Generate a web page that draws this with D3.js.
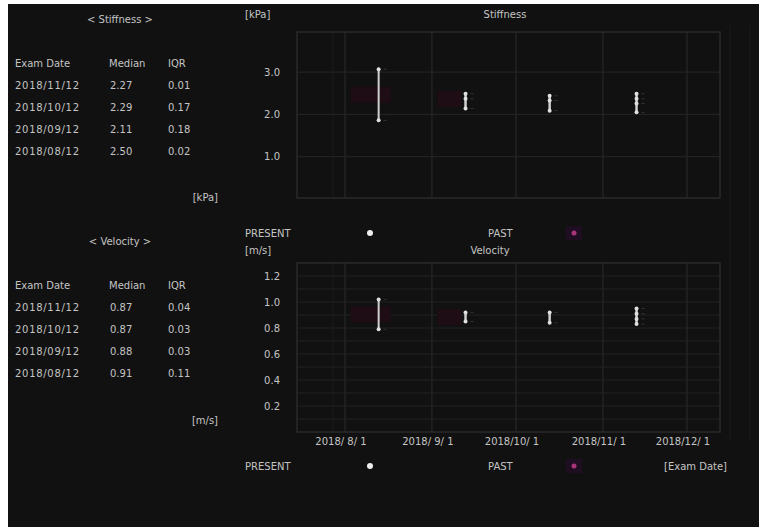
<!DOCTYPE html>
<html><head><meta charset="utf-8">
<script src="https://cdn.jsdelivr.net/npm/d3@7"></script>
<style>body{margin:0;background:#fff}svg{display:block}text{font-family:"DejaVu Sans",sans-serif;fill:#c4c4c4}</style>
</head><body>
<svg id="c" width="759" height="527"></svg>
<script>
// ---- data ----
const tableDates = ["2018/11/12","2018/10/12","2018/09/12","2018/08/12"];
const stiffMedian = ["2.27","2.29","2.11","2.50"];
const stiffIQR = ["0.01","0.17","0.18","0.02"];
const velMedian = ["0.87","0.87","0.88","0.91"];
const velIQR = ["0.04","0.03","0.03","0.11"];
const examDates = ["2018-08-13","2018-09-13","2018-10-13","2018-11-13"];
const stiffMeasures = [[3.07,1.86],[2.49,2.37,2.14],[2.44,2.33,2.09],[2.49,2.37,2.26,2.05]];
const velMeasures = [[1.02,0.79],[0.92,0.85],[0.92,0.84],[0.95,0.91,0.87,0.83]];
const xTickDates = ["2018-08-01","2018-09-01","2018-10-01","2018-11-01","2018-12-01"];
const xTickLabels = ["2018/ 8/ 1","2018/ 9/ 1","2018/10/ 1","2018/11/ 1","2018/12/ 1"];
const stiffTicks = [1.0,2.0,3.0];
const velTicks = [0.2,0.4,0.6,0.8,1.0,1.2];
const velGrid = [0.1,0.2,0.3,0.4,0.5,0.6,0.7,0.8,0.9,1.0,1.1,1.2];

const svg = d3.select("#c");
svg.append("rect").attr("x",8).attr("y",4).attr("width",751).attr("height",523).attr("fill","#111111");

// ---- tables ----
function table(title, y0, med, iqr, unit, unitY){
  svg.append("text").attr("x",120).attr("y",y0).attr("text-anchor","middle").attr("font-size",10).text(title);
  const hy = y0+44;
  svg.append("text").attr("x",15).attr("y",hy).attr("font-size",10).text("Exam Date");
  svg.append("text").attr("x",109).attr("y",hy).attr("font-size",10).text("Median");
  svg.append("text").attr("x",168).attr("y",hy).attr("font-size",10).text("IQR");
  tableDates.forEach((d,i)=>{
    const yy = hy+22*(i+1);
    svg.append("text").attr("x",15).attr("y",yy).attr("font-size",10).attr("textLength",64).text(d);
    svg.append("text").attr("x",110).attr("y",yy).attr("font-size",10).text(med[i]);
    svg.append("text").attr("x",168).attr("y",yy).attr("font-size",10).text(iqr[i]);
  });
  svg.append("text").attr("x",218).attr("y",unitY).attr("text-anchor","end").attr("font-size",10).text(unit);
}
table("< Stiffness >",23,stiffMedian,stiffIQR,"[kPa]",201);
table("< Velocity >",245,velMedian,velIQR,"[m/s]",424);

// ---- scales ----
const parse = d3.timeParse("%Y-%m-%d");
const x = d3.scaleTime().domain([parse("2018-08-01"),parse("2018-12-01")]).range([345,687]);
const L=297,R=720;

function panel(top,bottom,y,ticks,grid,measures,unit,title,unitY,titleX,titleY){
  const g = svg.append("g");
  g.selectAll(".hg").data(grid).join("line").attr("x1",L).attr("x2",R)
    .attr("y1",d=>y(d)).attr("y2",d=>y(d)).attr("stroke","#222222").attr("stroke-width",1.2);
  g.selectAll(".vg").data(xTickDates).join("line").attr("y1",top).attr("y2",bottom)
    .attr("x1",d=>x(parse(d))).attr("x2",d=>x(parse(d))).attr("stroke","#232323").attr("stroke-width",1.5);
  g.append("line").attr("x1",333).attr("x2",333).attr("y1",top).attr("y2",bottom).attr("stroke","#1c1c1c");
  g.append("rect").attr("x",L).attr("y",top).attr("width",R-L).attr("height",bottom-top)
    .attr("fill","none").attr("stroke","#2a2a2a").attr("stroke-width",1.5);
  const ax = d3.axisLeft(y).tickValues(ticks).tickFormat(d3.format(".1f")).tickSize(0).tickPadding(17);
  const a = g.append("g").attr("transform",`translate(${L},0)`).call(ax);
  a.select(".domain").remove();
  a.selectAll("text").attr("font-size",10).attr("fill","#c4c4c4").attr("font-family","DejaVu Sans");
  svg.append("text").attr("x",245).attr("y",unitY).attr("font-size",10).text(unit);
  svg.append("text").attr("x",titleX).attr("y",titleY).attr("text-anchor","middle").attr("font-size",10).text(title);
  measures.forEach((m,i)=>{
    const cx = x(parse(examDates[i]));
    const med = d3.median(m);
    if(i<2) g.append("rect").attr("x",cx-28).attr("y",y(med)-8).attr("width",i==0?40:24).attr("height",16)
      .attr("fill","#1e0d14");
  });
  measures.forEach((m,i)=>{
    const cx = x(parse(examDates[i]));
    const gg = g.append("g");
    gg.append("line").attr("x1",cx).attr("x2",cx).attr("y1",y(d3.max(m))).attr("y2",y(d3.min(m)))
      .attr("stroke","#d0d0d0").attr("stroke-width",i==0?2:2.5);
    gg.selectAll("circle").data(m).join("circle").attr("cx",cx).attr("cy",d=>y(d)).attr("r",2).attr("fill","#e0e0e0");
    gg.selectAll(".tk").data(m).join("line").attr("x1",cx+5).attr("x2",cx+8).attr("y1",d=>y(d)).attr("y2",d=>y(d))
      .attr("stroke","#333333").attr("stroke-width",1);
  });
}
const yS = d3.scaleLinear().domain([0,3.95]).range([199,32]);
panel(32,198,yS,stiffTicks,stiffTicks,stiffMeasures,"[kPa]","Stiffness",18,505,18);
const yV = d3.scaleLinear().domain([0,1.3]).range([432,263]);
panel(263,432,yV,velTicks,velGrid,velMeasures,"[m/s]","Velocity",254,490,254);

svg.selectAll(".xl").data(xTickDates).join("text").attr("x",d=>x(parse(d))-4).attr("y",445)
  .attr("text-anchor","middle").attr("font-size",10).text((d,i)=>xTickLabels[i]);

[730,750].forEach(v=>svg.append("line").attr("x1",v).attr("x2",v).attr("y1",25).attr("y2",440).attr("stroke","#1a1a1a"));

function legend(yy){
  svg.append("text").attr("x",245).attr("y",yy+4).attr("font-size",10).text("PRESENT");
  svg.append("circle").attr("cx",370).attr("cy",yy).attr("r",3).attr("fill","#eeeeee");
  svg.append("text").attr("x",488).attr("y",yy+4).attr("font-size",10).text("PAST");
  svg.append("rect").attr("x",566).attr("y",yy-7).attr("width",16).attr("height",14).attr("fill","#1f0e22");
  svg.append("circle").attr("cx",574).attr("cy",yy).attr("r",2.5).attr("fill","#a8347a");
}
legend(233);
legend(466);
svg.append("text").attr("x",727).attr("y",470).attr("text-anchor","end").attr("font-size",10).text("[Exam Date]");
</script>
</body></html>
